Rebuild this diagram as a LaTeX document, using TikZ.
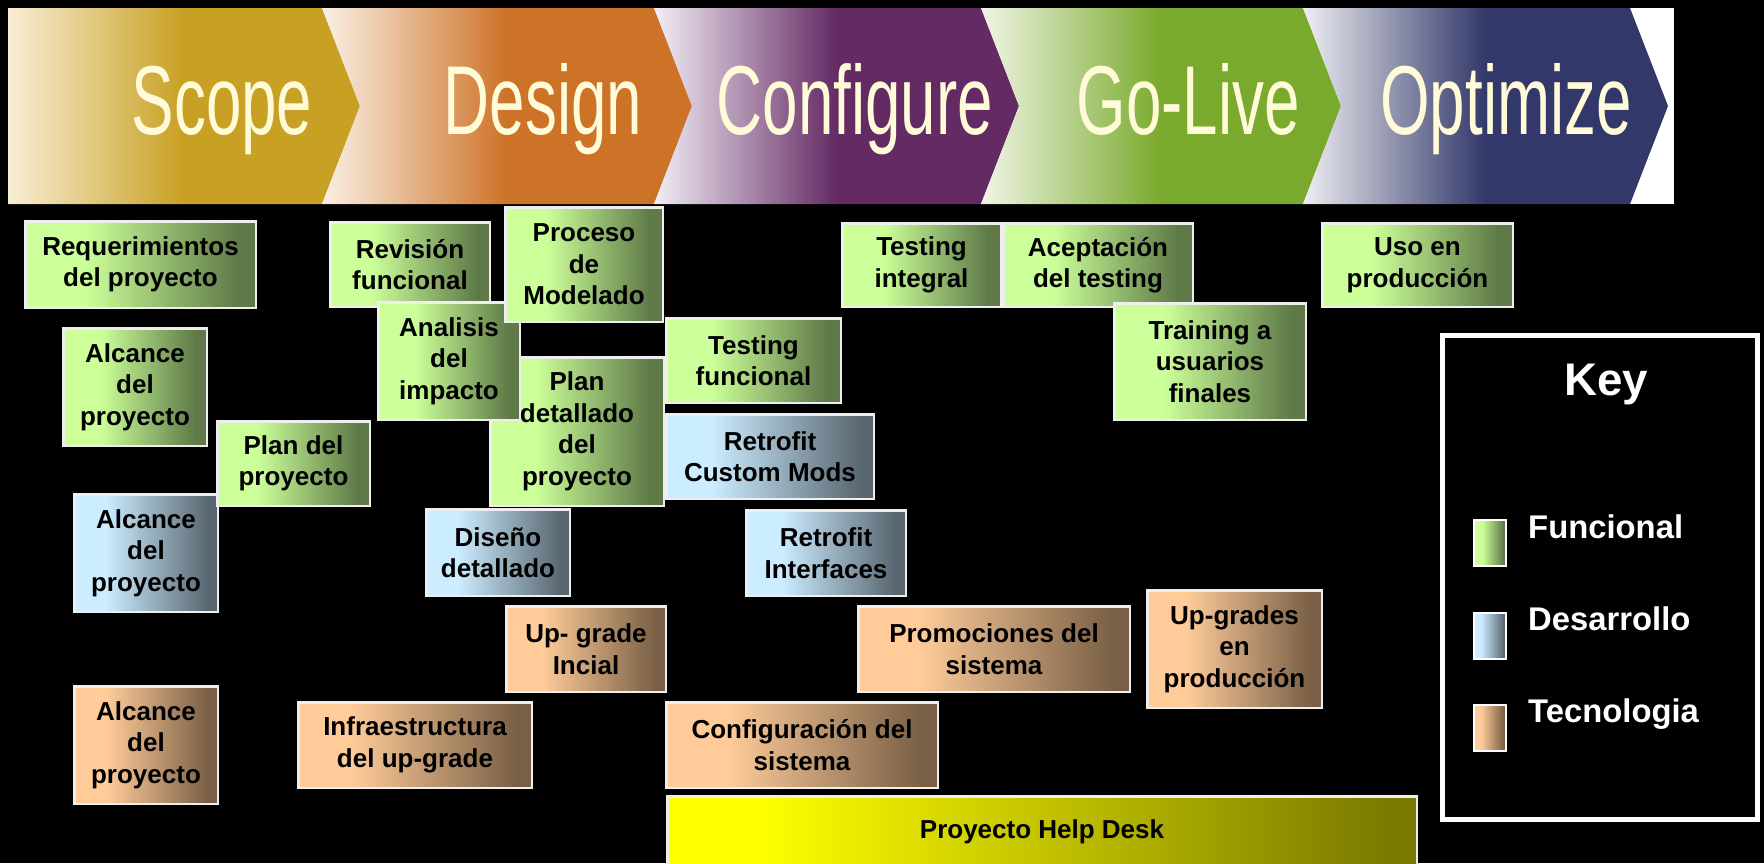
\documentclass[tikz,border=0pt]{standalone}
\usepackage{fontspec}
\setmainfont{Liberation Sans}
\newfontfamily\bannerfont[FakeStretch=0.65]{Liberation Sans}
\definecolor{gA}{RGB}{204,255,153}
\definecolor{gB}{RGB}{95,122,72}
\definecolor{bA}{RGB}{204,236,255}
\definecolor{bB}{RGB}{88,102,112}
\definecolor{tA}{RGB}{255,204,153}
\definecolor{tB}{RGB}{120,95,70}
\definecolor{yA}{RGB}{255,255,0}
\definecolor{yB}{RGB}{122,122,0}
\definecolor{boxborder}{RGB}{238,238,238}
\definecolor{cream}{RGB}{255,250,215}
\definecolor{cGold}{RGB}{200,160,35}
\definecolor{cOrange}{RGB}{205,115,40}
\definecolor{cPurple}{RGB}{100,42,100}
\definecolor{cGreen}{RGB}{122,170,45}
\definecolor{cNavy}{RGB}{50,56,105}
\definecolor{lGold}{RGB}{248,238,212}
\definecolor{lOrange}{RGB}{250,240,228}
\definecolor{lPurple}{RGB}{242,238,245}
\definecolor{lGreen}{RGB}{240,245,228}
\definecolor{lNavy}{RGB}{238,238,242}
\pgfdeclarehorizontalshading{gshade}{100bp}{color(0bp)=(gA); color(38bp)=(gA); color(71bp)=(gB); color(100bp)=(gB)}
\pgfdeclarehorizontalshading{bshade}{100bp}{color(0bp)=(bA); color(36bp)=(bA); color(72bp)=(bB); color(100bp)=(bB)}
\pgfdeclarehorizontalshading{tshade}{100bp}{color(0bp)=(tA); color(36bp)=(tA); color(72bp)=(tB); color(100bp)=(tB)}
\pgfdeclarehorizontalshading{yshade}{100bp}{color(0bp)=(yA); color(31bp)=(yA); color(73bp)=(yB); color(100bp)=(yB)}
\newcommand\bx[7]{%
  \pgfmathsetmacro\bxcx{(#2+#4)/2}%
  \pgfmathsetmacro\bxcy{(#3+#5)/2}%
  \pgfmathsetmacro\bxw{#4-#2-2.5}%
  \pgfmathsetmacro\bxh{#5-#3-2.5}%
  \node[#6, minimum width=\bxw pt, minimum height=\bxh pt] (#1) at (\bxcx,\bxcy) {#7};}
\tikzset{
  box/.style={draw=boxborder, line width=2.5pt, inner sep=0pt, align=center,
    font=\fontsize{26}{31.5}\selectfont\bfseries, text=black, shade},
  fun/.style={box, shading=gshade},
  dev/.style={box, shading=bshade},
  tec/.style={box, shading=tshade},
  hd/.style={box, shading=yshade},
  swatch/.style={draw=white, line width=2pt, inner sep=0pt, shade, minimum width=32pt, minimum height=46pt},
  bannertxt/.style={text=cream, inner sep=0pt, anchor=base, font=\bannerfont\fontsize{98}{98}\selectfont},
  keytxt/.style={text=white, inner sep=0pt, anchor=base west, font=\fontsize{32.8}{36}\selectfont\bfseries},
}
\begin{document}
\begin{tikzpicture}[x=1pt,y=-1pt]
\fill[black] (0,0) rectangle (1764,863);
\useasboundingbox (0,0) rectangle (1764,863);
% banner
\fill[white] (8,8) rectangle (1674,204);
\shade[left color=lGold, right color=cGold, middle color=cGold]
  (8,8) -- (322,8) -- (360,106) -- (322,204) -- (8,204) -- cycle;
\shade[left color=lOrange, right color=cOrange, middle color=cOrange]
  (322,8) -- (654,8) -- (692,106) -- (654,204) -- (322,204) -- (360,106) -- cycle;
\shade[left color=lPurple, right color=cPurple, middle color=cPurple]
  (654,8) -- (981,8) -- (1019,106) -- (981,204) -- (654,204) -- (692,106) -- cycle;
\shade[left color=lGreen, right color=cGreen, middle color=cGreen]
  (981,8) -- (1303,8) -- (1341,106) -- (1303,204) -- (981,204) -- (1019,106) -- cycle;
\shade[left color=lNavy, right color=cNavy, middle color=cNavy]
  (1303,8) -- (1630,8) -- (1668,106) -- (1630,204) -- (1303,204) -- (1341,106) -- cycle;
\node[bannertxt] (tScope) at (222,134) {Scope};
\node[bannertxt] (tDesign) at (543,134) {Design};
\node[bannertxt] (tConfig) at (855,134) {Configure};
\node[bannertxt] (tGoLive) at (1188,134) {Go-Live};
\node[bannertxt] (tOpt) at (1506,134) {Optimize};
% boxes
\bx{req}{24}{220}{257}{309}{fun}{Requerimientos\\del proyecto}
\bx{rev}{329}{221}{491}{308}{fun}{Revisión\\funcional}
\bx{pdet}{489}{356}{665}{507}{fun}{Plan\\detallado\\del\\proyecto}
\bx{ana}{377}{301}{521}{421}{fun}{Analisis\\del\\impacto}
\bx{proc}{504}{206}{664}{323}{fun}{Proceso\\de\\Modelado}
\bx{alcF}{62}{327}{208}{447}{fun}{Alcance\\del\\proyecto}
\bx{alcD}{73}{493}{219}{613}{dev}{Alcance\\del\\proyecto}
\bx{plan}{216}{420}{371}{507}{fun}{Plan del\\proyecto}
\bx{tfun}{665}{317}{842}{404}{fun}{Testing\\funcional}
\bx{rcm}{665}{413}{875}{500}{dev}{Retrofit\\Custom Mods}
\bx{tint}{841}{222}{1002}{308}{fun}{Testing\\integral}
\bx{acep}{1002}{222}{1194}{308}{fun}{Aceptación\\del testing}
\bx{train}{1113}{302}{1307}{421}{fun}{Training a\\usuarios\\finales}
\bx{uso}{1321}{222}{1514}{308}{fun}{Uso en\\producción}
\bx{dis}{425}{508}{571}{597}{dev}{Diseño\\detallado}
\bx{rint}{745}{509}{907}{597}{dev}{Retrofit\\Interfaces}
\bx{upi}{505}{605}{667}{693}{tec}{Up- grade\\Incial}
\bx{alcT}{73}{685}{219}{805}{tec}{Alcance\\del\\proyecto}
\bx{infra}{297}{701}{533}{789}{tec}{Infraestructura\\del up-grade}
\bx{conf}{665}{701}{939}{789}{tec}{Configuración del\\sistema}
\bx{prom}{857}{605}{1131}{693}{tec}{Promociones del\\sistema}
\bx{upp}{1146}{589}{1323}{709}{tec}{Up-grades\\en\\producción}
\bx{help}{666}{795}{1418}{868}{hd}{Proyecto Help Desk}
% legend
\node[draw=white, line width=5pt, fill=black, minimum width=315pt, minimum height=484pt, inner sep=0pt] (key) at (1600,577.5) {};
\node[text=white, inner sep=0pt, anchor=base, font=\fontsize{45.7}{50}\selectfont\bfseries] (keyt) at (1606,395) {Key};
\node[swatch, shading=gshade] (swF) at (1490,543) {};
\node[swatch, shading=bshade] (swD) at (1490,635.5) {};
\node[swatch, shading=tshade] (swT) at (1490,727.5) {};
\node[keytxt] (lF) at (1528,538) {Funcional};
\node[keytxt] (lD) at (1528,630) {Desarrollo};
\node[keytxt] (lT) at (1528,722) {Tecnologia};
\end{tikzpicture}
\end{document}
